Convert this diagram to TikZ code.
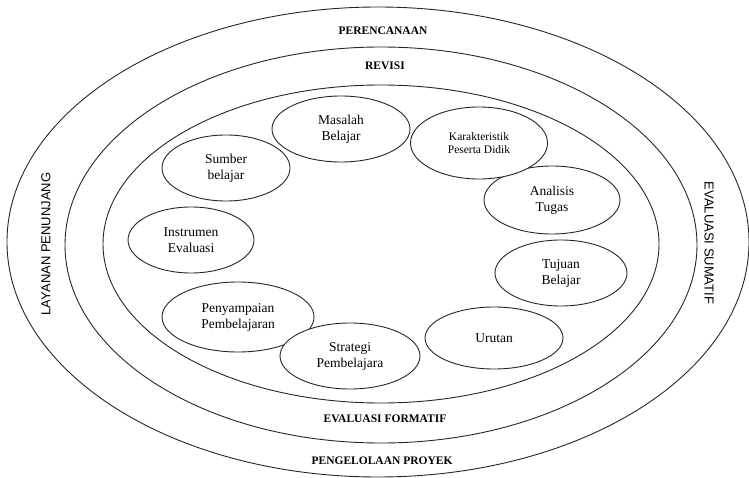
\documentclass[tikz,border=0pt]{standalone}
\usepackage{fontspec}
\setmainfont{Liberation Serif}
\newfontfamily\arialf{Liberation Sans}
\usetikzlibrary{shapes.geometric}
\begin{document}
\begin{tikzpicture}[x=1pt,y=-1pt,
  ring/.style={draw=black!85, line width=0.9pt},
  topic/.style={ellipse, draw=black!85, line width=0.9pt, fill=white, inner sep=0pt,
    align=center, font=\fontsize{13.5}{16}\selectfont},
  smalltopic/.style={topic, font=\fontsize{11.5}{13.5}\selectfont},
  band/.style={font=\bfseries\fontsize{11.5}{13}\selectfont},
  side/.style={font=\arialf\fontsize{13}{15}\selectfont}]
\useasboundingbox (0,0) rectangle (749,478);
% rings
\draw[ring] (378,242) ellipse [x radius=371pt, y radius=235pt];
\draw[ring] (381,245) ellipse [x radius=316pt, y radius=198pt];
\draw[ring] (381,244) ellipse [x radius=278pt, y radius=159pt];
% band labels
\node[band] (plan) at (383,31) {PERENCANAAN};
\node[band] (rev) at (385,66) {REVISI};
\node[band] (form) at (385,419) {EVALUASI FORMATIF};
\node[band] (proj) at (382,461) {PENGELOLAAN PROYEK};
\node[side, rotate=90] (lay) at (46,244) {LAYANAN PENUNJANG};
\node[side, rotate=-90] (sum) at (709,243) {EVALUASI SUMATIF};
% topics
\node[topic, minimum width=138pt, minimum height=66pt] (mas) at (341,129) {Masalah\\Belajar};
\node[topic, minimum width=136pt, minimum height=68pt] (ana) at (552,200) {Analisis\\Tugas};
\node[smalltopic, minimum width=137pt, minimum height=72pt] (kar) at (479,143) {Karakteristik\\Peserta Didik};
\node[topic, minimum width=132pt, minimum height=66pt] (tuj) at (561,273) {Tujuan\\Belajar};
\node[topic, minimum width=138pt, minimum height=62pt] (uru) at (494,338) {Urutan};
\node[topic, minimum width=152pt, minimum height=70pt] (pen) at (238,317) {Penyampaian\\Pembelajaran};
\node[topic, minimum width=140pt, minimum height=66pt] (str) at (350,356) {Strategi\\Pembelajara};
\node[topic, minimum width=126pt, minimum height=66pt] (ins) at (191,240) {Instrumen\\Evaluasi};
\node[topic, minimum width=128pt, minimum height=66pt] (sum2) at (226,168) {Sumber\\belajar};
\end{tikzpicture}
\end{document}
